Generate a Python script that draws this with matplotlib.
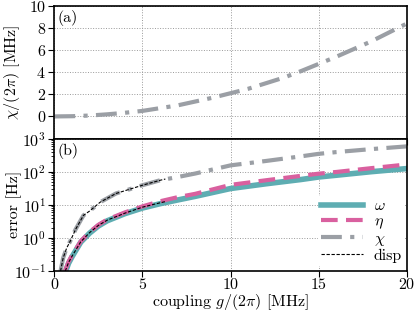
import matplotlib
matplotlib.use("Agg")
import matplotlib.pyplot as plt

plt.rcParams['font.family'] = 'serif'
plt.rcParams['font.serif'] = ['cmr10']
plt.rcParams['mathtext.fontset'] = 'cm'
plt.rcParams['axes.unicode_minus'] = False
plt.rcParams['axes.formatter.use_mathtext'] = True
plt.rcParams['font.size'] = 11.5
plt.rcParams['xtick.major.size'] = 4
plt.rcParams['ytick.major.size'] = 4
plt.rcParams['ytick.minor.size'] = 2.2
plt.rcParams['xtick.major.pad'] = 0
plt.rcParams['ytick.major.pad'] = 2

# panel (a): dispersive shift chi/(2 pi) in MHz
g_chi = [0, 1, 2, 3, 4, 5, 6, 7, 8, 9, 10, 11, 12, 13, 14, 15, 16, 17, 18, 19, 20]
chi = [0, 0.02, 0.08, 0.19, 0.33, 0.5, 0.75, 1.0, 1.35, 1.7, 2.1, 2.5, 3.0,
       3.5, 4.1, 4.75, 5.4, 6.1, 6.8, 7.6, 8.4]

# panel (b): errors in Hz
g_om = [0.65, 0.8, 1, 1.5, 2, 2.5, 3, 4, 5, 6, 7, 8, 10, 12, 14, 15, 16, 18, 20]
err_om = [0.1, 0.17, 0.27, 0.75, 1.4, 2.3, 3.3, 5.4, 8.0, 10.8, 14, 18, 31, 43, 58, 69, 78, 100, 124]
g_eta = [0.6, 0.8, 1, 1.5, 2, 2.5, 3, 4, 5, 6, 7, 8, 10, 12, 14, 15, 16, 18, 20]
err_eta = [0.1, 0.19, 0.3, 0.8, 1.5, 2.5, 3.6, 5.9, 9.0, 12.8, 17, 21.5, 40, 55, 75, 87, 98, 128, 165]
g_chi_err = [0.35, 0.5, 0.7, 0.9, 1.2, 1.65, 2, 2.6, 3.5, 5, 6, 7, 8, 10, 12, 14, 15, 16, 18, 20]
err_chi = [0.1, 0.25, 0.5, 0.8, 1.8, 4.8, 6.5, 12, 22, 39, 55, 69, 88, 155, 210, 290, 345, 390, 480, 580]
g_disp = [0.35, 0.5, 0.7, 0.9, 1.2, 1.65, 2, 2.6, 3.5, 5, 6, 6.3]
disp_chi = [0.1, 0.25, 0.5, 0.8, 1.8, 4.8, 6.5, 12, 22, 39, 55, 60]
g_disp2 = [0.62, 0.8, 1, 1.5, 2, 2.5, 3, 4, 5, 6, 6.3]
disp_om = [0.1, 0.18, 0.28, 0.77, 1.45, 2.4, 3.45, 5.6, 8.5, 11.5, 12.5]

c_om = '#5eadb2'
c_eta = '#d9609f'
c_chi = '#9b9fa5'

fig, (ax1, ax2) = plt.subplots(2, 1, figsize=(4.15, 3.12), dpi=100, sharex=True)
plt.subplots_adjust(left=0.131, right=0.98, top=0.981, bottom=0.131, hspace=0)

ax1.plot(g_chi, chi, color=c_chi, lw=3, dashes=(5, 2, 1, 2))
ax1.set_ylim(-2, 10)
ax1.set_yticks([0, 2, 4, 6, 8, 10])
ax1.set_ylabel(r'$\chi/(2\pi)$ [MHz]')
ax1.yaxis.set_label_coords(-0.093, 0.5)
ax1.grid(True, ls=':', color='#999999', lw=0.7)
ax1.text(0.008, 0.97, '(a)', transform=ax1.transAxes, va='top', ha='left')

ax2.plot(g_om, err_om, color=c_om, lw=4, label=r'$\omega$')
ax2.plot(g_eta, err_eta, color=c_eta, lw=3, dashes=(4, 2), label=r'$\eta$')
ax2.plot(g_chi_err, err_chi, color=c_chi, lw=3, dashes=(5, 2, 1, 2), label=r'$\chi$')
ax2.plot(g_disp, disp_chi, color='black', lw=0.8, ls='--', dashes=(3, 1.5), label='disp')
ax2.plot(g_disp2, disp_om, color='black', lw=0.8, ls='--', dashes=(3, 1.5))
ax2.set_yscale('log')
ax2.set_ylim(0.1, 1000)
ax2.set_xlim(0, 20)
ax2.set_xticks([0, 5, 10, 15, 20])
ax2.set_ylabel('error [Hz]')
ax2.yaxis.set_label_coords(-0.093, 0.5)
ax2.set_xlabel(r'coupling $g/(2\pi)$ [MHz]', labelpad=0)
ax2.grid(True, which='major', ls=':', color='#999999', lw=0.7)
ax2.text(0.008, 0.97, '(b)', transform=ax2.transAxes, va='top', ha='left')
leg = ax2.legend(loc='lower right', frameon=True, framealpha=1, edgecolor='none',
                 fancybox=False, handlelength=2.6, labelspacing=0.05, borderpad=0.2,
                 handletextpad=0.7, borderaxespad=0.1, bbox_to_anchor=(1.0, 0.025))

for ax in (ax1, ax2):
    for s in ax.spines.values():
        s.set_linewidth(1.2)

plt.savefig('out.png', dpi=100)
plt.close()
